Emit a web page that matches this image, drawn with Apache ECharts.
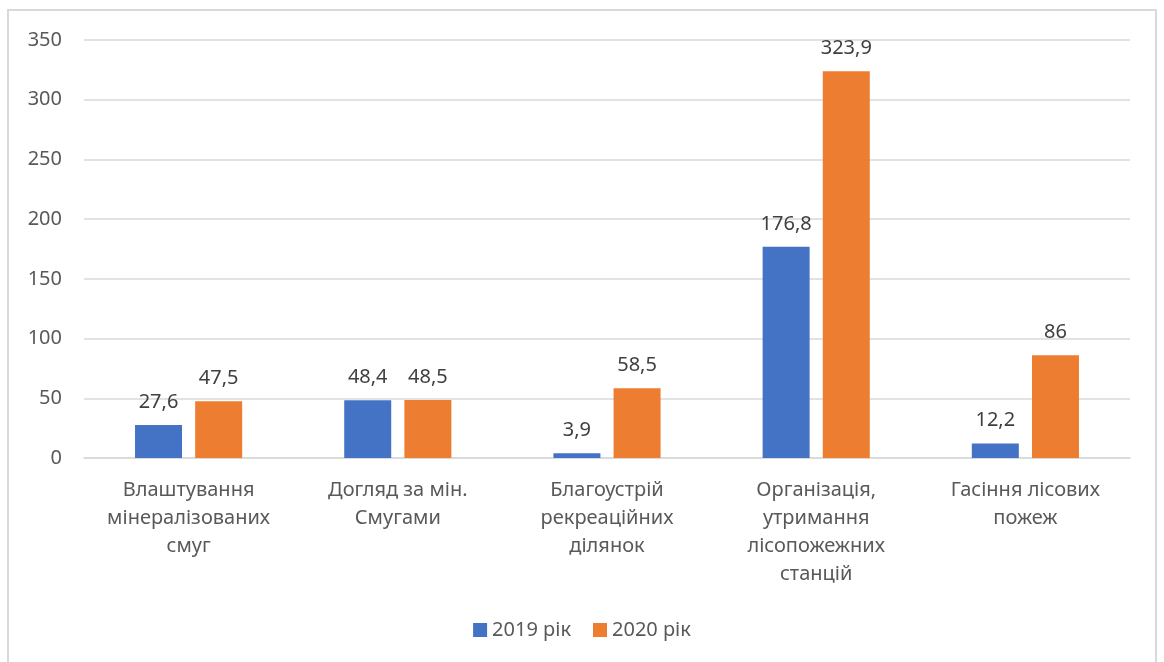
<!DOCTYPE html>
<html>
<head>
<meta charset="utf-8">
<script src="https://cdn.jsdelivr.net/npm/echarts@6/dist/echarts.min.js"></script>
<style>
  html, body { margin: 0; padding: 0; background: #fff; }
  #frame { position: absolute; left: 7px; top: 9px; width: 1150px; height: 660px; border: 2px solid #d9d9d9; box-sizing: border-box; }
  #main { position: absolute; left: 0; top: 0; width: 1164px; height: 662px; }
</style>
</head>
<body>
<div id="frame"></div>
<div id="main"></div>
<script>
var categories = [
    'Влаштування\nмінералізованих\nсмуг',
    'Догляд за мін.\nСмугами',
    'Благоустрій\nрекреаційних\nділянок',
    'Організація,\nутримання\nлісопожежних\nстанцій',
    'Гасіння лісових\nпожеж'
];
var values2019 = [27.6, 48.4, 3.9, 176.8, 12.2];
var values2020 = [47.5, 48.5, 58.5, 323.9, 86];
var seriesNames = ['2019 рік', '2020 рік'];

var fontFamily = '"Noto Sans", sans-serif';
var textColor = '#595959';

function fmt(p) {
    return String(p.value).replace('.', ',');
}

var myChart = echarts.init(document.getElementById('main'), null, {renderer: 'canvas'});
var option = {
    animation: false,
    textStyle: {fontFamily: fontFamily},
    grid: {left: 84, right: 34, top: 40, bottom: 204, containLabel: false},
    legend: {
        data: seriesNames,
        bottom: 17,
        left: 'center',
        itemWidth: 14,
        itemHeight: 14,
        itemGap: 22,
        icon: 'rect',
        textStyle: {color: textColor, fontSize: 20, fontFamily: fontFamily}
    },
    xAxis: {
        type: 'category',
        data: categories,
        axisTick: {show: false},
        axisLine: {lineStyle: {color: '#d9d9d9', width: 1.5}},
        axisLabel: {color: textColor, fontSize: 20, lineHeight: 28, margin: 18, interval: 0, fontFamily: fontFamily}
    },
    yAxis: {
        type: 'value',
        min: 0,
        max: 350,
        interval: 50,
        axisLine: {show: false},
        axisTick: {show: false},
        splitLine: {lineStyle: {color: '#d9d9d9', width: 1.5}},
        axisLabel: {color: textColor, fontSize: 20, margin: 22, fontFamily: fontFamily}
    },
    series: [
        {
            name: seriesNames[0],
            type: 'bar',
            data: values2019,
            barWidth: 47,
            barGap: '28%',
            itemStyle: {color: '#4472c4'},
            label: {show: true, position: 'top', distance: 13, color: '#404040', fontSize: 20, formatter: fmt, fontFamily: fontFamily}
        },
        {
            name: seriesNames[1],
            type: 'bar',
            data: values2020,
            barWidth: 47,
            barGap: '28%',
            itemStyle: {color: '#ed7d31'},
            label: {show: true, position: 'top', distance: 13, color: '#404040', fontSize: 20, formatter: fmt, fontFamily: fontFamily}
        }
    ]
};
myChart.setOption(option);
</script>
</body>
</html>
